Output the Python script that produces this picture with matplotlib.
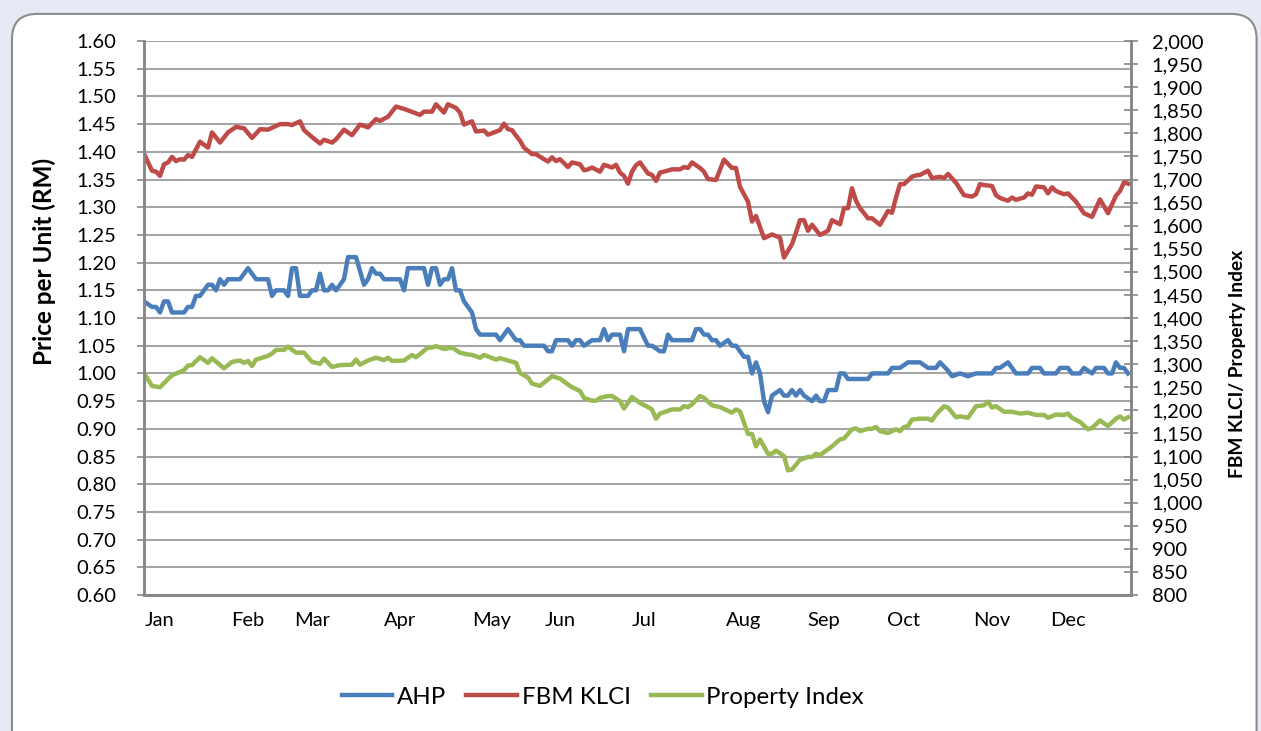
import matplotlib.pyplot as plt
from matplotlib.patches import FancyBboxPatch
from matplotlib.ticker import FuncFormatter, MultipleLocator

plt.rcParams['font.family'] = ['Lato', 'DejaVu Sans']

# trading day index (0 = first trading day of the year)
months = ['Jan', 'Feb', 'Mar', 'Apr', 'May', 'Jun', 'Jul', 'Aug', 'Sep', 'Oct', 'Nov', 'Dec']
month_day = [4, 26, 42, 64, 87, 104, 125, 150, 170, 190, 212, 231]

# AHP price per unit (RM), left axis
ahp_day = [0, 2, 3, 4, 5, 6, 7, 10, 11, 12, 13, 14, 16, 17, 18, 19, 20, 21, 24, 26, 28, 31, 32, 33, 35, 36,
           37, 38, 39, 41, 42, 43, 44, 45, 46, 47, 48, 50, 51, 53, 55, 56, 57, 58, 59, 60, 61,
           64, 65, 66, 70, 71, 72, 73, 74, 75, 76, 77, 78, 79, 80, 81, 82, 83, 84, 88, 89, 91, 93, 94, 95,
           100, 101, 102, 103, 106, 107, 108, 109, 110, 112, 114, 115, 116, 117, 119, 120, 121, 124,
           126, 127, 129, 130, 131, 132, 137, 138, 139, 140, 141, 142, 143, 144, 146, 147, 148, 150, 151,
           152, 153, 154, 155, 156, 157, 159, 160, 161, 162, 163, 164, 165, 167, 168, 169, 170, 171, 173,
           174, 175, 176, 181, 182, 186, 187, 189, 191, 194, 196, 198, 199, 201, 202, 204, 206, 208, 212,
           213, 214, 216, 218, 221, 222, 224, 225, 228, 229, 231, 232, 234, 235, 237, 238, 240, 241, 242,
           243, 244, 245, 246]
ahp = [1.13, 1.12, 1.12, 1.11, 1.13, 1.13, 1.11, 1.11, 1.12, 1.12, 1.14, 1.14, 1.16, 1.16, 1.15, 1.17, 1.16,
       1.17, 1.17, 1.19, 1.17, 1.17, 1.14, 1.15, 1.15, 1.14, 1.19, 1.19, 1.14, 1.14, 1.15, 1.15, 1.18, 1.15,
       1.15, 1.16, 1.15, 1.17, 1.21, 1.21, 1.16, 1.17, 1.19, 1.18, 1.18, 1.17, 1.17,
       1.17, 1.15, 1.19, 1.19, 1.16, 1.19, 1.19, 1.16, 1.17, 1.17, 1.19, 1.15, 1.15, 1.13, 1.12, 1.11, 1.08,
       1.07, 1.07, 1.06, 1.08, 1.06, 1.06, 1.05, 1.05, 1.04, 1.04, 1.06, 1.06, 1.05, 1.06, 1.06, 1.05, 1.06,
       1.06, 1.08, 1.06, 1.07, 1.07, 1.04, 1.08, 1.08,
       1.05, 1.05, 1.04, 1.04, 1.07, 1.06, 1.06, 1.08, 1.08, 1.07, 1.07, 1.06, 1.06, 1.05, 1.06, 1.05, 1.05,
       1.03, 1.03, 1.00, 1.02, 1.00, 0.95, 0.93, 0.96, 0.97, 0.96, 0.96, 0.97, 0.96, 0.97, 0.96, 0.95, 0.96,
       0.95, 0.95, 0.97, 0.97, 1.00, 1.00, 0.99, 0.99, 1.00, 1.00, 1.01, 1.01, 1.02, 1.02, 1.01, 1.01, 1.02,
       1.005, 0.995, 1.00, 0.995, 1.00, 1.00, 1.01, 1.01, 1.02, 1.00, 1.00, 1.01, 1.01, 1.00, 1.00, 1.01,
       1.01, 1.00, 1.00, 1.01, 1.00, 1.01, 1.01, 1.00, 1.00, 1.02, 1.01, 1.01, 1.00]

# FBM KLCI, right axis
klci_day = [0, 2, 3, 4, 5, 6, 7, 8, 9, 10, 11, 12, 14, 16, 17, 19, 21, 23, 25, 27, 29, 31, 34, 36, 37, 39, 40,
            42, 44, 45, 47, 48, 50, 52, 54, 56, 58, 59, 61,
            63, 65, 69, 70, 72, 73, 75, 76, 78, 79, 80, 82, 83, 85, 86, 89, 90, 91, 92, 93, 94, 95, 97, 98,
            100, 101, 102, 103, 104, 106, 107, 109, 110, 111, 112, 114, 115, 117, 118, 119, 120, 121, 122,
            123, 124, 126, 127, 128, 129, 130, 132, 134, 135, 136, 137, 139, 140, 141, 143, 145, 147, 148,
            149, 151, 152, 153, 155, 157, 159, 160, 162, 163, 164, 165, 166, 167, 169, 171, 172, 174, 175,
            176, 177, 178, 179, 181, 182, 184, 186, 187, 188, 189, 190, 192, 193, 194, 196, 197, 199, 200,
            201, 203, 205, 207, 208, 209, 210, 212, 213, 214, 216, 217, 218, 220, 221, 222, 223, 225, 226,
            227, 228, 230, 231, 233, 235, 237, 239, 241, 243, 244, 245, 246]
klci = [1756, 1719, 1717, 1708, 1733, 1737, 1749, 1740, 1744, 1743, 1753, 1749, 1782, 1769, 1802, 1780, 1802,
        1814, 1811, 1790, 1809, 1808, 1820, 1820, 1818, 1826, 1807, 1792, 1778, 1786, 1780, 1787, 1808, 1796,
        1819, 1813, 1831, 1827, 1836,
        1858, 1853, 1840, 1847, 1847, 1863, 1845, 1863, 1855, 1845, 1819, 1826, 1804, 1806, 1797, 1807, 1821,
        1809, 1807, 1795, 1784, 1769, 1755, 1755, 1744, 1739, 1748, 1740, 1744, 1727, 1737, 1733, 1720, 1722,
        1726, 1717, 1732, 1726, 1732, 1715, 1708, 1691, 1717, 1731, 1737, 1713, 1710, 1697, 1715, 1717, 1722,
        1722, 1727, 1725, 1737, 1725, 1717, 1701, 1699, 1743, 1725, 1725, 1684, 1652, 1609, 1621, 1573, 1581,
        1574, 1531, 1560, 1585, 1612, 1612, 1589, 1602, 1580, 1589, 1612, 1603, 1638, 1638, 1681, 1654, 1638,
        1616, 1616, 1602, 1632, 1628, 1661, 1690, 1690, 1706, 1709, 1710, 1719, 1703, 1706, 1703, 1712, 1693,
        1666, 1663, 1668, 1690, 1688, 1686, 1666, 1660, 1654, 1661, 1656, 1661, 1670, 1667, 1685, 1683, 1670,
        1683, 1675, 1668, 1670, 1652, 1627, 1619, 1657, 1627, 1665, 1675, 1694, 1691]

# Property Index, right axis
prop_day = [0, 2, 4, 6, 7, 10, 11, 12, 14, 16, 17, 20, 22, 24, 25, 26, 27, 28, 31, 32, 33, 35, 36, 38, 40, 42,
            44, 45, 47, 49, 52, 53, 54, 56, 58, 60, 61,
            62, 65, 67, 68, 71, 72, 73, 75, 77, 79, 81, 82, 84, 85, 88, 89, 91, 93, 94, 96, 97, 99, 102, 104,
            106, 107, 109, 110, 112, 113, 114, 116, 117, 119, 120, 122, 124,
            126, 127, 128, 129, 132, 134, 135, 136, 137, 139, 140, 142, 144, 147, 148, 149, 151, 152, 153, 154,
            156, 157, 158, 160, 161, 162, 164, 166, 167, 168, 169, 172, 174, 175, 177, 178, 179, 181, 182, 183,
            184, 186, 188, 189, 190, 191, 192, 194, 196, 197, 198, 200, 201, 203, 204, 206, 208, 210, 211, 212,
            213, 215, 217, 219, 221, 223, 225, 226, 228, 230, 231, 232, 234, 236, 237, 239, 241, 243, 244, 245,
            246]
prop = [1281, 1253, 1250, 1268, 1276, 1287, 1297, 1298, 1315, 1303, 1313, 1291, 1305, 1308, 1303, 1307, 1296,
        1310, 1318, 1323, 1331, 1331, 1338, 1325, 1325, 1305, 1301, 1312, 1294, 1298, 1299, 1310, 1299, 1308,
        1314, 1309, 1314,
        1307, 1308, 1320, 1315, 1336, 1336, 1339, 1333, 1336, 1325, 1321, 1320, 1314, 1320, 1310, 1313, 1308,
        1303, 1281, 1271, 1258, 1253, 1274, 1269, 1256, 1250, 1242, 1227, 1221, 1221, 1227, 1231, 1231, 1220,
        1204, 1229, 1216,
        1207, 1202, 1182, 1193, 1202, 1202, 1209, 1207, 1213, 1231, 1227, 1211, 1207, 1195, 1202, 1198, 1149,
        1149, 1122, 1137, 1106, 1106, 1113, 1101, 1070, 1072, 1093, 1099, 1099, 1106, 1103, 1122, 1137, 1139,
        1159, 1161, 1155, 1160, 1160, 1164, 1155, 1151, 1159, 1155, 1164, 1166, 1180, 1182, 1182, 1178, 1191,
        1209, 1206, 1185, 1187, 1184, 1209, 1211, 1219, 1206, 1209, 1197, 1197, 1193, 1195, 1190, 1190, 1184,
        1191, 1190, 1193, 1184, 1175, 1159, 1162, 1178, 1166, 1182, 1187, 1180, 1185]

BLUE = '#4a7ebb'
RED = '#be4b48'
GREEN = '#98b954'
GRID = '#a6a6a6'
AXIS = '#868686'

fig = plt.figure(figsize=(12.61, 7.31), dpi=100, facecolor='#e7e9f4')
box = FancyBboxPatch((0.0095, -0.05), 0.987, 1.031, boxstyle='round,pad=0,rounding_size=0.02',
                     mutation_aspect=1261 / 731, transform=fig.transFigure,
                     facecolor='white', edgecolor='#8c8c8c', linewidth=1.5, zorder=-5)
fig.patches.append(box)

ax = fig.add_axes([0.1142, 0.186, 0.7827, 0.7579])
ax.set_facecolor('none')
ax2 = ax.twinx()

l1, = ax.plot(ahp_day, ahp, color=BLUE, lw=3.2, solid_joinstyle='round', label='AHP')
l2, = ax2.plot(klci_day, klci, color=RED, lw=3.2, solid_joinstyle='round', label='FBM KLCI')
l3, = ax2.plot(prop_day, prop, color=GREEN, lw=3.2, solid_joinstyle='round', label='Property Index')

ax.set_xlim(0, 246.75)
ax.set_ylim(0.6, 1.6)
ax.yaxis.set_major_locator(MultipleLocator(0.05))
ax.yaxis.set_major_formatter(FuncFormatter(lambda v, p: f'{v:.2f}'))
ax.grid(axis='y', color=GRID, lw=1.5)
ax.set_axisbelow(True)
ax.set_xticks(month_day)
ax.set_xticklabels(months)
ax.tick_params(axis='x', length=0, pad=12, labelsize=14.5)
ax.tick_params(axis='y', length=5, width=1.2, color=AXIS, pad=15, labelsize=14.5)

ax2.set_ylim(800, 2000)
ax2.yaxis.set_major_locator(MultipleLocator(50))
ax2.yaxis.set_major_formatter(FuncFormatter(lambda v, p: f'{v:,.0f}'))
ax2.tick_params(axis='y', direction='inout', length=10, width=1.2, color=AXIS, pad=10, labelsize=14.5)

for a in (ax, ax2):
    a.spines['top'].set_visible(False)
    for s in ('left', 'right', 'bottom'):
        a.spines[s].set_color(AXIS)
        a.spines[s].set_linewidth(1.8)

fig.text(0.035, 0.643, 'Price per Unit (RM)', rotation=90, ha='center', va='center',
         fontsize=17.5, fontweight='bold')
fig.text(0.9817, 0.502, 'FBM KLCI/ Property Index', rotation=90, ha='center', va='center',
         fontsize=13.8, fontweight='bold')

fig.legend(handles=[l1, l2, l3], loc='center', bbox_to_anchor=(0.478, 0.046), ncol=3, frameon=False,
           fontsize=17.3, handlelength=2.1, handletextpad=0.2, columnspacing=0.85)

fig.savefig('out.png', dpi=100, facecolor=fig.get_facecolor())
